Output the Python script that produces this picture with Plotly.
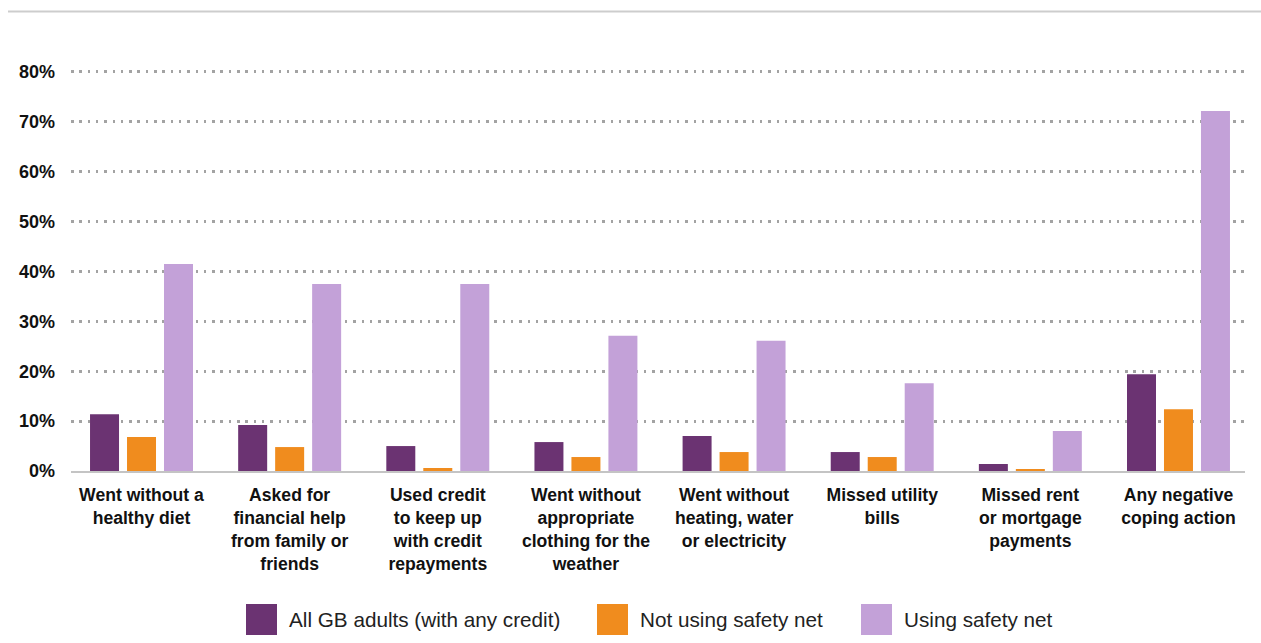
import plotly.graph_objects as go

# ---- data ----
categories = [
    "Went without a<br>healthy diet",
    "Asked for<br>financial help<br>from family or<br>friends",
    "Used credit<br>to keep up<br>with credit<br>repayments",
    "Went without<br>appropriate<br>clothing for the<br>weather",
    "Went without<br>heating, water<br>or electricity",
    "Missed utility<br>bills",
    "Missed rent<br>or mortgage<br>payments",
    "Any negative<br>coping action",
]
series_names = ["All GB adults (with any credit)", "Not using safety net", "Using safety net"]
all_gb_adults = [11.4, 9.2, 5.0, 5.8, 7.0, 3.8, 1.4, 19.4]
not_using_safety_net = [6.8, 4.8, 0.6, 2.8, 3.8, 2.8, 0.4, 12.4]
using_safety_net = [41.5, 37.5, 37.5, 27.1, 26.1, 17.6, 8.0, 72.2]
series_colors = ["#6B3372", "#F08C1E", "#C3A1D8"]
y_tick_values = [0, 10, 20, 30, 40, 50, 60, 70, 80]
y_tick_labels = ["0%", "10%", "20%", "30%", "40%", "50%", "60%", "70%", "80%"]

# ---- layout geometry (pixels) ----
W, H = 1261, 643
L, R, T, B = 71, 16, 62, 172
PW, PH = W - L - R, H - T - B


def px_x(px):
    return (px - L) / PW


def px_y(py):
    return (H - B - py) / PH


FONT = "Liberation Sans, Arial, sans-serif"

fig = go.Figure()
for name, vals, col in zip(series_names, [all_gb_adults, not_using_safety_net, using_safety_net], series_colors):
    fig.add_trace(go.Bar(x=categories, y=vals, name=name, marker=dict(color=col, line=dict(width=0)),
                         showlegend=False))

shapes = [
    dict(type="line", xref="paper", yref="paper", x0=px_x(8), x1=px_x(1261), y0=px_y(11.5), y1=px_y(11.5),
         line=dict(color="#cdcdcd", width=2)),
]
annotations = []
legend_swatch_x = [246, 597, 861]
for name, col, sx in zip(series_names, series_colors, legend_swatch_x):
    shapes.append(dict(type="rect", xref="paper", yref="paper", x0=px_x(sx), x1=px_x(sx + 31),
                       y0=px_y(635), y1=px_y(604), fillcolor=col, line=dict(width=0)))
    annotations.append(dict(xref="paper", yref="paper", x=px_x(sx + 41), y=px_y(619.5), text=name,
                            showarrow=False, xanchor="left", yanchor="middle",
                            font=dict(family=FONT, size=20.7, color="#222222")))

fig.update_layout(
    width=W, height=H,
    margin=dict(l=L, r=R, t=T, b=B, pad=0),
    paper_bgcolor="white", plot_bgcolor="white",
    barmode="group", bargap=0.251, bargroupgap=0.216,
    font=dict(family=FONT, size=17, color="#111111"),
    shapes=shapes, annotations=annotations,
    xaxis=dict(
        type="category", range=[-0.476, 7.449], showgrid=False, showline=True,
        linecolor="#c4c4c4", linewidth=2, ticks="", ticklabelstandoff=7,
        tickfont=dict(family=FONT, size=17.6, color="#111111", weight="bold"),
        fixedrange=True,
    ),
    yaxis=dict(
        range=[0, 82], tickvals=y_tick_values, ticktext=y_tick_labels, showgrid=True,
        gridcolor="#a3a3a3", gridwidth=2.5, griddash="2.5px,5.8px", zeroline=False, showline=False,
        ticks="", ticklabelstandoff=15,
        tickfont=dict(family=FONT, size=18, color="#111111", weight="bold"),
        fixedrange=True,
    ),
)

fig.write_html("out.html", config={"displayModeBar": False})
